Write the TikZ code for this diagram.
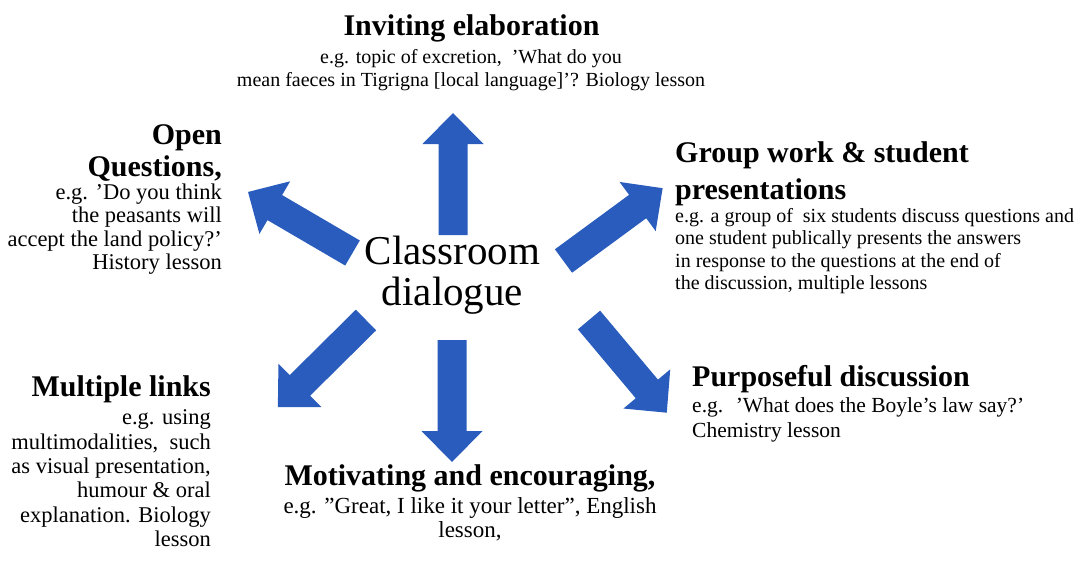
\documentclass[tikz,border=0pt]{standalone}
\usepackage{fontspec}
\setmainfont{Liberation Serif}
\definecolor{arrowblue}{RGB}{41,92,189}
\tikzset{
  heading/.style={inner sep=0pt, font=\fontsize{30pt}{32pt}\selectfont\bfseries},
  body/.style={inner sep=0pt},
  blockarrow/.style={fill=arrowblue}
}
\newcommand\drawBlockArrow[3]{%
  \begin{scope}[shift={(#1)},rotate=#2]
    \fill[blockarrow] (0,-14.5) -- (#3-31,-14.5) -- (#3-31,-30.5) -- (#3,0)
      -- (#3-31,30.5) -- (#3-31,14.5) -- (0,14.5) -- cycle;
  \end{scope}}
\begin{document}
\begin{tikzpicture}[x=1pt,y=1pt]
\useasboundingbox (0,0) rectangle (1077,-560);
\fill[white] (0,0) rectangle (1077,-560);

% arrows
\drawBlockArrow{453,-235}{90}{122}
\drawBlockArrow{452,-340}{-90}{122}
\drawBlockArrow{352.5,-253}{149.7}{121}
\drawBlockArrow{563.5,-261}{36.3}{123}
\drawBlockArrow{366,-320}{224.7}{124}
\drawBlockArrow{589,-320}{-50}{121}

% centre
\node[inner sep=0pt, anchor=north, align=center, font=\fontsize{41pt}{41pt}\selectfont] (center) at (452.5,-236) {Classroom\\dialogue};

% top
\node[heading, anchor=north] (inv) at (471.5,-14.5) {Inviting elaboration};
\node[body, anchor=north, align=center, font=\fontsize{20pt}{22.5pt}\selectfont] (invtxt) at (471,-49.3)
  {e.g. topic of excretion,~ ’What do you\\mean faeces in Tigrigna [local language]’? Biology lesson};

% open questions
\node[heading, anchor=north east, align=right] (openq) at (222,-124.5) {Open\\Questions,};
\node[body, anchor=north east, align=right, font=\fontsize{22.5pt}{23.3pt}\selectfont] (openqtxt) at (222,-183.6)
  {e.g. ’Do you think\\the peasants will\\accept the land policy?’\\History lesson};

% group work
\node[heading, anchor=north west, align=left, font=\fontsize{30pt}{37pt}\selectfont\bfseries] (group) at (675,-141.7) {Group work \& student\\presentations};
\node[body, anchor=north west, align=left, font=\fontsize{20pt}{22.3pt}\selectfont] (grouptxt) at (675,-208.3)
  {e.g. a group of~ six students discuss questions and\\one student publically presents the answers\\in response to the questions at the end of\\the discussion, multiple lessons};

% purposeful discussion
\node[heading, anchor=north west] (purp) at (692,-364.7) {Purposeful discussion};
\node[body, anchor=north west, align=left, font=\fontsize{21.5pt}{25pt}\selectfont] (purptxt) at (692,-397.3)
  {e.g.~ ’What does the Boyle’s law say?’\\Chemistry lesson};

% motivating
\node[heading, anchor=north] (motiv) at (470,-464.7) {Motivating and encouraging,};
\node[body, anchor=north, align=center, font=\fontsize{23pt}{24pt}\selectfont] (motivtxt) at (470,-497.3)
  {e.g. ”Great, I like it your letter”, English\\lesson,};

% multiple links
\node[heading, anchor=north east] (multi) at (211,-375.7) {Multiple links};
\node[body, anchor=north east, align=right, font=\fontsize{22.5pt}{24.4pt}\selectfont] (multitxt) at (211,-409.6)
  {e.g. using\\multimodalities,~ such\\as visual presentation,\\humour \& oral\\explanation. Biology\\lesson};
\end{tikzpicture}
\end{document}
